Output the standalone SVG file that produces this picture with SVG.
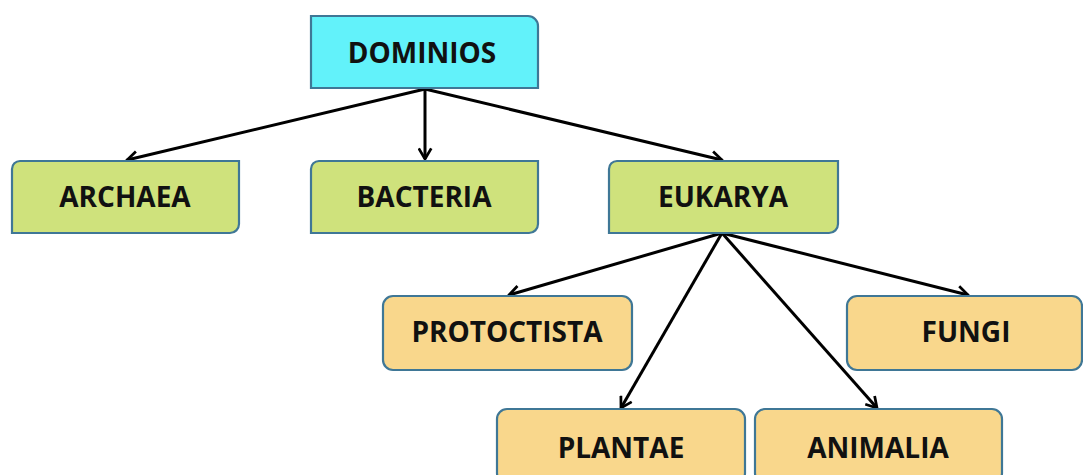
<svg xmlns="http://www.w3.org/2000/svg" width="1083" height="475" viewBox="0 0 1083 475">
  <style>
    .box { stroke: #3f7796; stroke-width: 2.2; }
    .root { fill: #62f2fa; }
    .domain { fill: #cfe27c; }
    .kingdom { fill: #f9d78c; }
    .label { font-family: "Open Sans", "Liberation Sans", sans-serif; font-weight: bold; font-size: 28px; fill: #111; text-anchor: middle; }
    .edge { stroke: #000; stroke-width: 3; fill: none; marker-end: url(#arrow); }
  </style>
  <defs>
    <marker id="arrow" viewBox="0 0 12 12" refX="10" refY="6" markerWidth="5" markerHeight="5" orient="auto" markerUnits="strokeWidth">
      <polyline points="1.5,1 10,6 1.5,11" fill="none" stroke="#000" stroke-width="2.2" stroke-linejoin="miter"/>
    </marker>
  </defs>
  <rect width="1083" height="475" fill="#fff"/>

  <g id="connectors">
    <line class="edge" x1="425" y1="89" x2="127" y2="160"/>
    <line class="edge" x1="425" y1="89" x2="425" y2="159"/>
    <line class="edge" x1="425" y1="89" x2="722" y2="160"/>
    <line class="edge" x1="722" y1="233" x2="509" y2="295"/>
    <line class="edge" x1="722" y1="233" x2="968" y2="295"/>
    <line class="edge" x1="722" y1="233" x2="621" y2="408"/>
    <line class="edge" x1="722" y1="233" x2="877" y2="408"/>
  </g>

  <!-- round top-right corner only -->
  <g id="node-dominios">
    <path class="box root" d="M311,16 H528 A10,10 0 0 1 538,26 V88 H311 Z"/>
    <text class="label" x="422" y="63">DOMINIOS</text>
  </g>

  <!-- round diagonal corners: top-left and bottom-right -->
  <g id="node-archaea">
    <path class="box domain" d="M20,161 H239 V224 A9,9 0 0 1 230,233 H12 V169 A8,8 0 0 1 20,161 Z"/>
    <text class="label" x="125" y="207">ARCHAEA</text>
  </g>
  <g id="node-bacteria">
    <path class="box domain" d="M319,161 H538 V224 A9,9 0 0 1 529,233 H311 V169 A8,8 0 0 1 319,161 Z"/>
    <text class="label" x="424" y="207">BACTERIA</text>
  </g>
  <g id="node-eukarya">
    <path class="box domain" d="M617,161 H838 V224 A9,9 0 0 1 829,233 H609 V169 A8,8 0 0 1 617,161 Z"/>
    <text class="label" x="723" y="207">EUKARYA</text>
  </g>

  <g id="node-protoctista">
    <rect class="box kingdom" x="383" y="296" width="249" height="74" rx="10"/>
    <text class="label" x="507" y="342">PROTOCTISTA</text>
  </g>
  <g id="node-fungi">
    <rect class="box kingdom" x="847" y="296" width="235" height="74" rx="10"/>
    <text class="label" x="966" y="342">FUNGI</text>
  </g>
  <g id="node-plantae">
    <rect class="box kingdom" x="497" y="409" width="248" height="74" rx="10"/>
    <text class="label" x="621" y="458">PLANTAE</text>
  </g>
  <g id="node-animalia">
    <rect class="box kingdom" x="755" y="409" width="247" height="74" rx="10"/>
    <text class="label" x="878" y="458">ANIMALIA</text>
  </g>
</svg>
